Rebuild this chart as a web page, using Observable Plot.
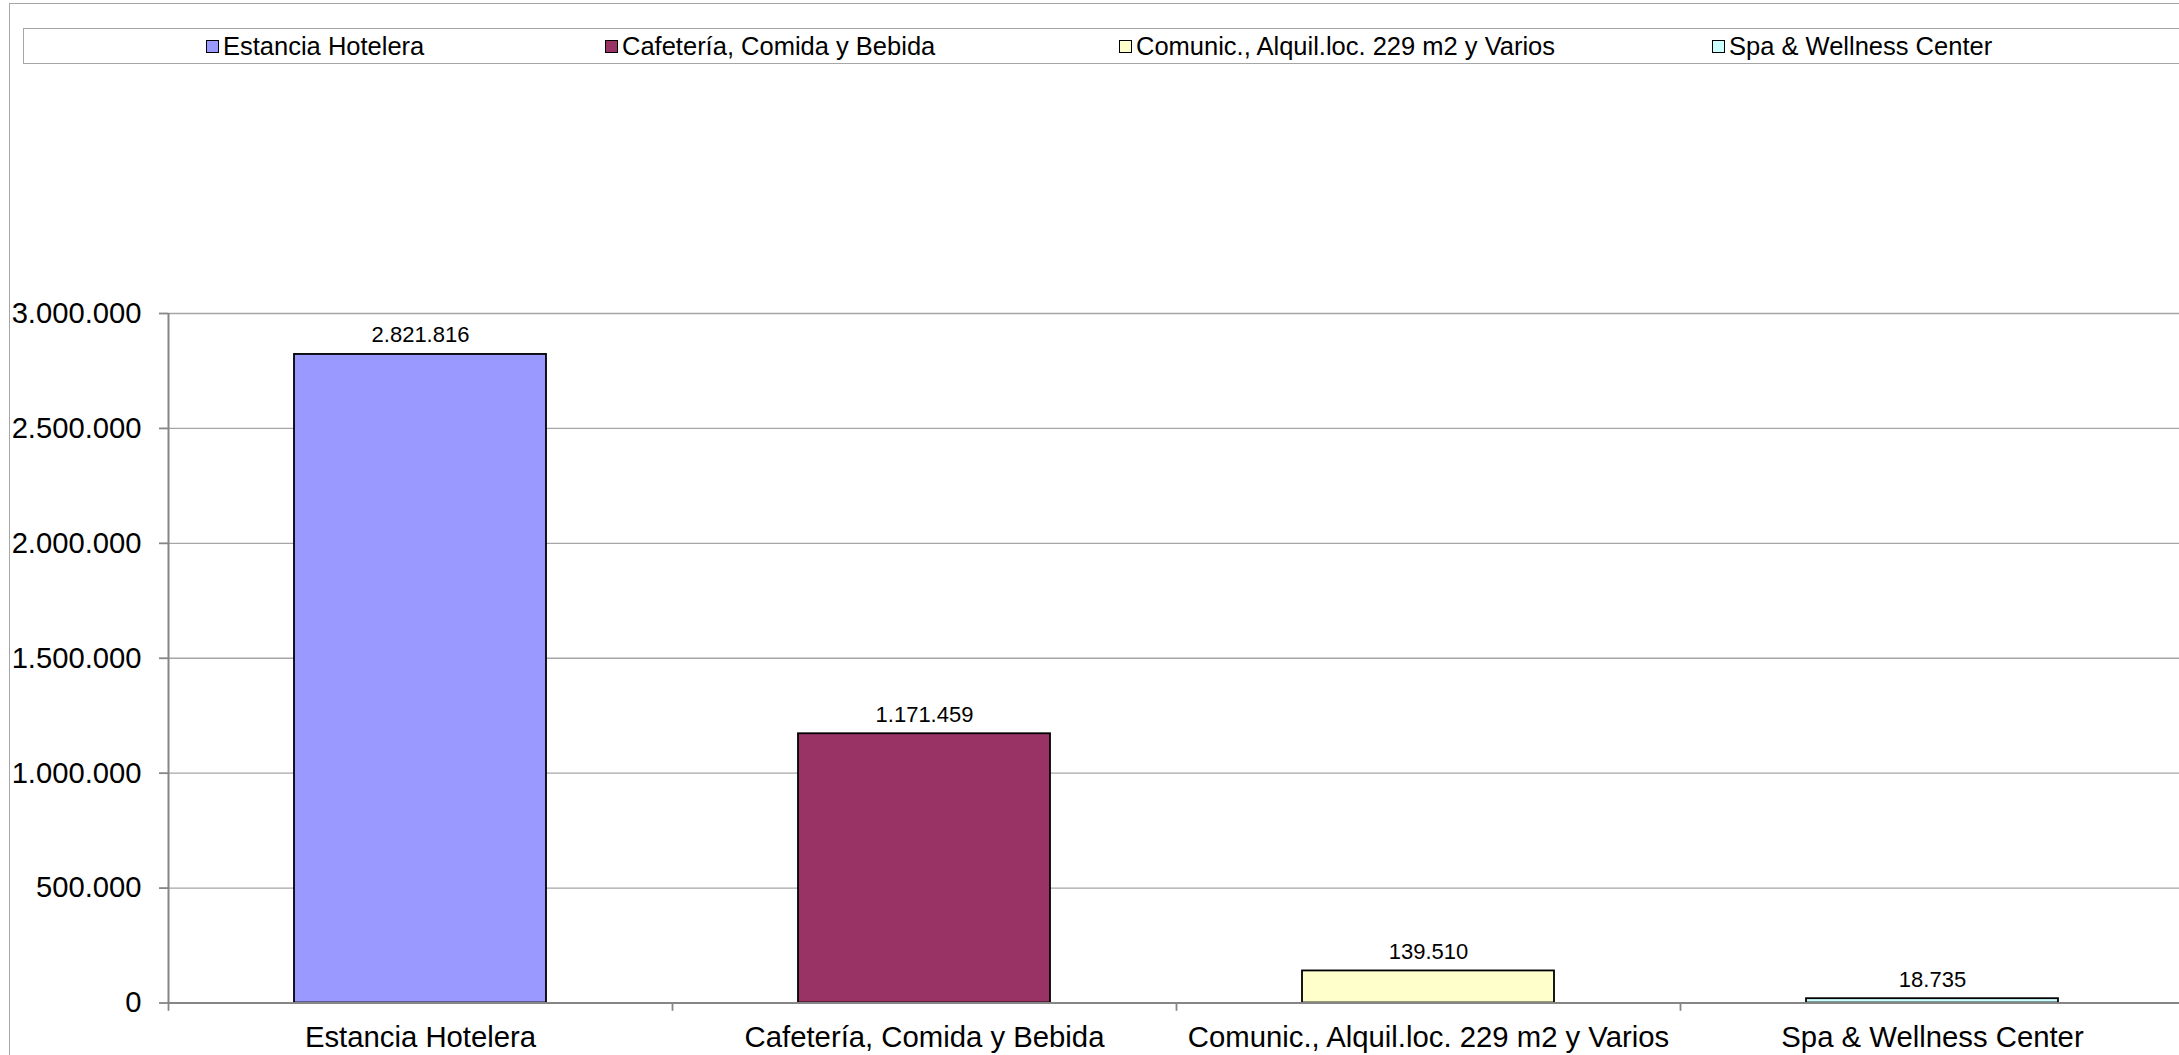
<!DOCTYPE html>
<html><head><meta charset="utf-8">
<script src="https://cdn.jsdelivr.net/npm/d3@7"></script>
<script src="https://cdn.jsdelivr.net/npm/@observablehq/plot@0.6"></script>
<style>
html,body{margin:0;padding:0;background:#fff;overflow:hidden;width:2179px;height:1055px;}
body{position:relative;font-family:"Liberation Sans",Arial,sans-serif;}
#frame{position:absolute;left:9px;top:3px;width:2200px;height:1100px;border-left:1.5px solid #a6a6a6;border-top:1.5px solid #a6a6a6;}
#legend{position:absolute;left:23px;top:28px;width:2200px;height:34px;border:1.5px solid #a6a6a6;}
.item{position:absolute;top:28px;height:37px;display:flex;align-items:center;font-size:25.5px;white-space:nowrap;color:#000;}
.sw{width:11px;height:11px;border:1.3px solid #000;margin-right:4px;}
#chart{position:absolute;left:0;top:290px;width:2200px;}
#chart svg{max-width:none !important;}
</style></head><body>
<div id="frame"></div><div id="legend"></div><div id="chart"></div>
<script>
const categories = ["Estancia Hotelera", "Cafetería, Comida y Bebida", "Comunic., Alquil.loc. 229 m2 y Varios", "Spa & Wellness Center"];
const values = [2821816, 1171459, 139510, 18735];
const colors = ["#9999FF", "#993366", "#FFFFCC", "#CCFFFF"];
const yTicks = [0, 500000, 1000000, 1500000, 2000000, 2500000, 3000000];
const legendLefts = [206, 605, 1119, 1712];

const data = categories.map((c, i) => ({category: c, value: values[i]}));
const loc = d3.formatLocale({decimal: ",", thousands: ".", grouping: [3], currency: ["", "€"]});
const fmt = loc.format(",d");

// legend
categories.forEach((c, i) => {
  const it = document.createElement("div");
  it.className = "item";
  it.style.left = legendLefts[i] + "px";
  const sw = document.createElement("div");
  sw.className = "sw";
  sw.style.background = colors[i];
  const t = document.createElement("span");
  t.textContent = c;
  it.appendChild(sw); it.appendChild(t);
  document.body.appendChild(it);
});

const W = 2190, ML = 168, MR = 6;
const step = (W - ML - MR) / categories.length;

const plot = Plot.plot({
  width: W,
  height: 765,
  marginLeft: ML,
  marginRight: MR,
  marginTop: 23,
  marginBottom: 52.5,
  style: {fontFamily: "'Liberation Sans', Arial, sans-serif", fontSize: "29px", background: "transparent", overflow: "visible", color: "#000", maxWidth: "none"},
  x: {domain: categories, paddingInner: 0.5, paddingOuter: 0.25},
  y: {domain: [0, 3000000]},
  color: {domain: categories, range: colors},
  marks: [
    Plot.gridY(yTicks.filter(d => d > 0), {stroke: "#a6a6a6", strokeOpacity: 1, strokeWidth: 1.4}),
    Plot.axisY({ticks: yTicks, tickFormat: fmt, tickSize: 9, tickPadding: 18, fontSize: 29.2, stroke: "#868686", strokeWidth: 1.8, fill: "#000", label: null}),
    Plot.axisX({tickSize: 0, tickPadding: 23, fontSize: 29.3, fill: "#000", label: null}),
    Plot.barY(data, {x: "category", y: "value", fill: "category", stroke: "#000", strokeWidth: 1.8}),
    Plot.ruleY([0], {stroke: "#868686", strokeWidth: 2}),
    Plot.ruleX(categories.slice(0, 1), {x: d => d, dx: -step / 2, y1: 0, y2: 3000000, stroke: "#868686", strokeWidth: 2}),
    Plot.ruleX(categories, {x: d => d, dx: -step / 2, y1: 0, y2: -36000, stroke: "#868686", strokeWidth: 1.8}),
    Plot.ruleX(categories.slice(-1), {x: d => d, dx: step / 2, y1: 0, y2: -36000, stroke: "#868686", strokeWidth: 1.8}),
    Plot.text(data, {x: "category", y: "value", text: d => fmt(d.value), dy: -12, lineAnchor: "bottom", fontSize: 22, fill: "#000"})
  ]
});
document.getElementById("chart").appendChild(plot);
</script>
</body></html>
